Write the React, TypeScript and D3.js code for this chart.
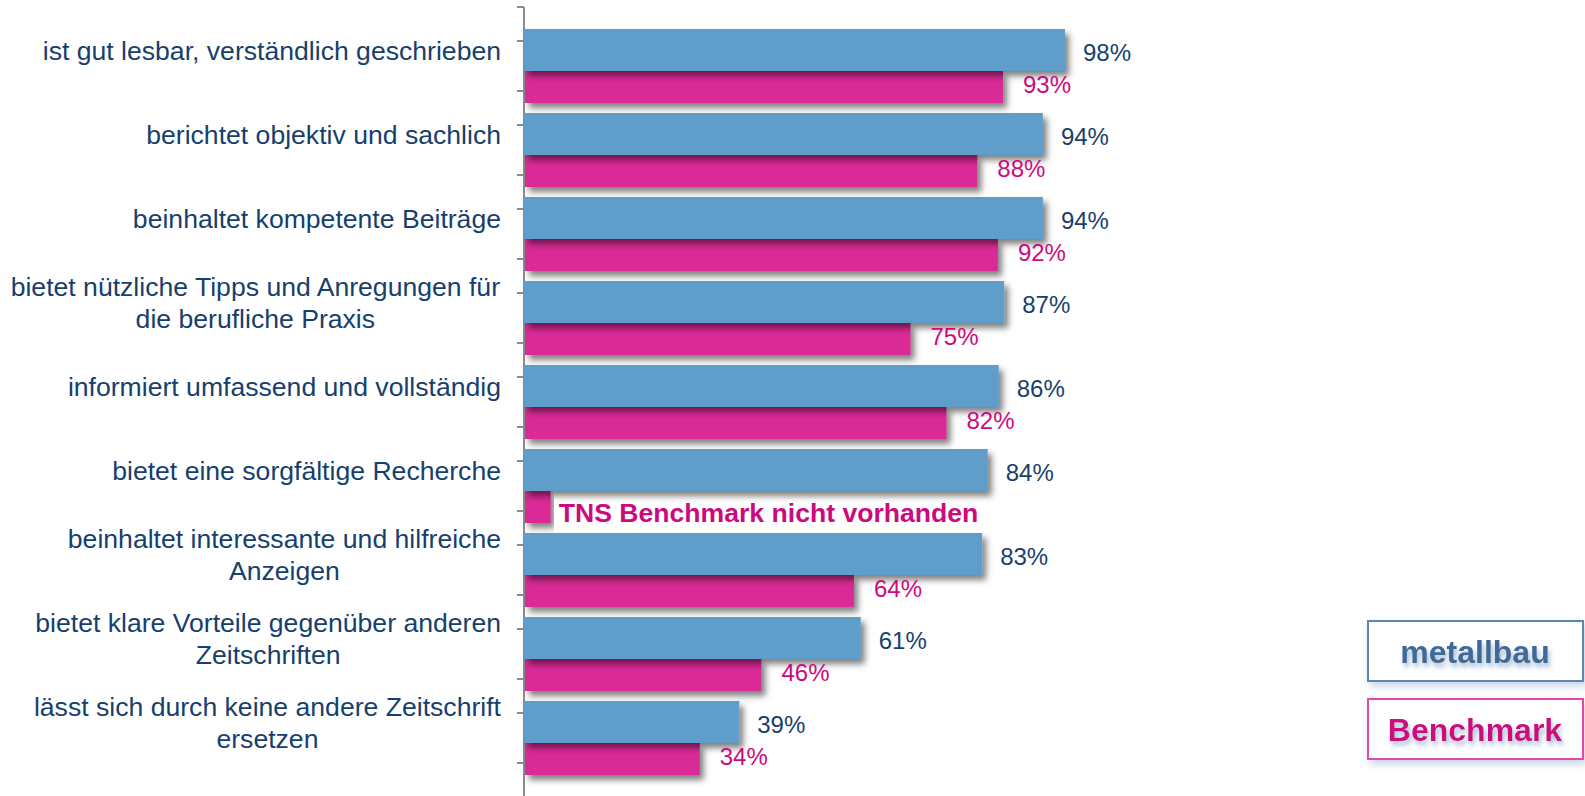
import React, { useMemo } from "react";
import * as d3 from "d3";

const categories: string[][] = [
  ["ist gut lesbar, verständlich geschrieben"],
  ["berichtet objektiv und sachlich"],
  ["beinhaltet kompetente Beiträge"],
  ["bietet nützliche Tipps und Anregungen für", "die berufliche Praxis"],
  ["informiert umfassend und vollständig"],
  ["bietet eine sorgfältige Recherche"],
  ["beinhaltet interessante und hilfreiche", "Anzeigen"],
  ["bietet klare Vorteile gegenüber anderen", "Zeitschriften"],
  ["lässt sich durch keine andere Zeitschrift", "ersetzen"],
];
const metallbau: number[] = [98, 94, 94, 87, 86, 84, 83, 61, 39];
const benchmark: (number | null)[] = [93, 88, 92, 75, 82, null, 64, 46, 34];
const missingStub = 5;
const missingText = "TNS Benchmark nicht vorhanden";
const legendLabels = ["metallbau", "Benchmark"];

const W = 1585;
const H = 796;
const FONT = "'Liberation Sans', Arial, Helvetica, sans-serif";
const BLUE = "#5E9ECB";
const PINK = "#DA2A96";
const NAVY = "#173F6D";
const PINK_TEXT = "#CC0A7E";
const CAT_SIZE = 26.6;

function measure(text: string, font: string): number {
  const c = document.createElement("canvas");
  const ctx = c.getContext("2d");
  if (!ctx) return text.length * 13;
  ctx.font = font;
  return ctx.measureText(text).width;
}

export default function App() {
  const keys = categories.map((_, i) => String(i));
  const y = d3.scaleBand<string>().domain(keys).range([7, 763]);
  const step = y.step();
  const xBlue = d3.scaleLinear().domain([0, 100]).range([524, 1076]);
  const xPink = d3.scaleLinear().domain([0, 100]).range([525, 1039]);
  const axisX = 524;

  const labelWidths = useMemo(
    () =>
      categories.map((lines) =>
        Math.max(...lines.map((l) => measure(l, `${CAT_SIZE}px ${FONT}`)))
      ),
    []
  );

  const ticksA = d3.range(categories.length + 1).map((k) => 7 + k * step);
  const ticksB = keys.map((k) => (y(k) as number) + 34);

  return (
    <div style={{ position: "absolute", left: 0, top: 0 }}>
      <svg width={W} height={H} style={{ display: "block" }} fontFamily={FONT}>
        <defs>
          <filter id="barShadow" x="-5%" y="-30%" width="115%" height="180%">
            <feDropShadow dx="4" dy="5" stdDeviation="3" floodColor="#000" floodOpacity="0.5" />
          </filter>
          <filter id="boxShadow" x="-10%" y="-20%" width="125%" height="150%">
            <feDropShadow dx="3" dy="4" stdDeviation="4" floodColor="#9fb4cc" floodOpacity="0.6" />
          </filter>
          <filter id="textShadow" x="-10%" y="-30%" width="125%" height="170%">
            <feDropShadow dx="2" dy="4" stdDeviation="2.5" floodColor="#8fa9c6" floodOpacity="0.8" />
          </filter>
        </defs>
        <rect width={W} height={H} fill="#fff" />

        {/* axis */}
        <line x1={axisX} x2={axisX} y1={7} y2={H} stroke="#8C8C8C" strokeWidth={2} />
        {ticksA.map((t, i) => (
          <line key={"a" + i} x1={axisX - 7} x2={axisX} y1={t} y2={t} stroke="#8C8C8C" strokeWidth={2} />
        ))}
        {ticksB.map((t, i) => (
          <line key={"b" + i} x1={axisX - 7} x2={axisX} y1={t} y2={t} stroke="#8C8C8C" strokeWidth={2} />
        ))}

        {/* benchmark bars */}
        {benchmark.map((v, i) => {
          const val = v == null ? missingStub : v;
          const y0 = (y(String(i)) as number) + 64;
          return (
            <rect key={"p" + i} x={xPink(0)} y={y0} width={xPink(val) - xPink(0)} height={32}
              fill={PINK} filter="url(#barShadow)" />
          );
        })}
        {/* metallbau bars */}
        {metallbau.map((v, i) => {
          const y0 = (y(String(i)) as number) + 22;
          return (
            <rect key={"m" + i} x={xBlue(0)} y={y0} width={xBlue(v) - xBlue(0)} height={42}
              fill={BLUE} filter="url(#barShadow)" />
          );
        })}

        {/* value labels */}
        {metallbau.map((v, i) => (
          <text key={"mv" + i} x={xBlue(v) + 18} y={(y(String(i)) as number) + 54}
            fontSize={24} fill={NAVY}>{v}%</text>
        ))}
        {benchmark.map((v, i) =>
          v == null ? (
            <text key={"pv" + i} x={xPink(missingStub) + 8} y={(y(String(i)) as number) + 95}
              fontSize={26.6} fontWeight="bold" fill={PINK_TEXT}>{missingText}</text>
          ) : (
            <text key={"pv" + i} x={xPink(v) + 20} y={(y(String(i)) as number) + 86}
              fontSize={24} fill={PINK_TEXT}>{v}%</text>
          )
        )}

        {/* category labels */}
        {categories.map((lines, i) => {
          const cy = (y(String(i)) as number) + 22 + 21;
          const cx = 501 - labelWidths[i] / 2;
          const lh = 32;
          const first = cy + 10 - ((lines.length - 1) * lh) / 2;
          return (
            <text key={"c" + i} x={cx} textAnchor="middle" fontSize={CAT_SIZE} fill={NAVY}>
              {lines.map((l, j) => (
                <tspan key={j} x={cx} y={first + j * lh}>{l}</tspan>
              ))}
            </text>
          );
        })}

        {/* legend */}
        {legendLabels.map((l, i) => {
          const by = 621 + i * 78;
          const stroke = i === 0 ? "#5F87AE" : "#E54AA8";
          const fill = i === 0 ? "#416B96" : "#CC0A7E";
          return (
            <g key={"lg" + i}>
              <rect x={1368} y={by} width={215} height={60} fill="#fff" stroke={stroke}
                strokeWidth={2} filter="url(#boxShadow)" />
              <text x={1475} y={by + 42} textAnchor="middle" fontSize={32} fontWeight="bold"
                fill={fill} filter="url(#textShadow)">{l}</text>
            </g>
          );
        })}
      </svg>
    </div>
  );
}
